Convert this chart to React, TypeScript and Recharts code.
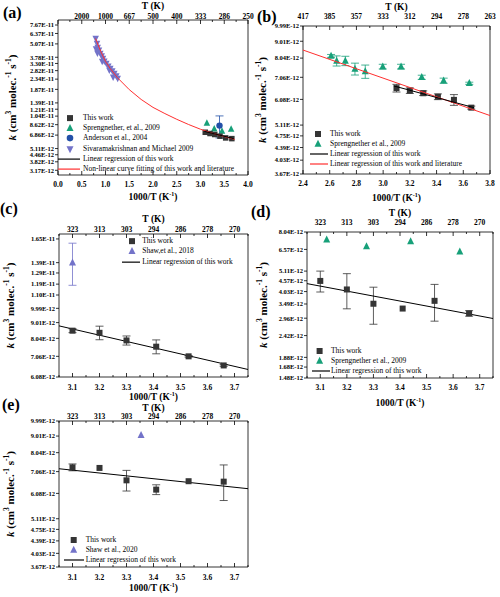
import React from 'react';
import { ScatterChart, Scatter, XAxis, YAxis, ErrorBar, Legend } from 'recharts';

const FONT = '"Liberation Serif", "Times New Roman", Times, serif';
const INK = '#353535';
const GREEN = '#17a079';
const BLUE = '#2350a8';
const PURPLE = '#7373c9';
const RED = '#ff2f2f';

// 1000/T of this work (K-1)
const workX = [3.1, 3.2, 3.3, 3.41, 3.53, 3.66];

// (a) all data, wide range
const aWorkK = [7.3e-12, 7.1e-12, 6.95e-12, 6.7e-12, 6.45e-12, 6.35e-12];
const aSprX = [3.134, 3.289, 3.453, 3.645];
const aSprK = [8.9e-12, 7.85e-12, 7.5e-12, 7.8e-12];
const aAndX = [3.4];
const aAndK = [8.45e-12];
const aAndErr = [2.0e-12];
const aSivX = [0.794, 0.8, 0.821, 0.83, 0.836, 0.863, 0.891, 0.92, 0.93, 0.947, 0.975, 1.017, 1.059, 1.08, 1.101, 1.143, 1.16, 1.185, 1.227, 1.257];
const aSivK = [5.73e-11, 4.55e-11, 5.13e-11, 4.15e-11, 4.7e-11, 4.43e-11, 4.12e-11, 3.89e-11, 3.45e-11, 3.7e-11, 3.48e-11, 3.31e-11, 3.12e-11, 2.85e-11, 2.97e-11, 2.8e-11, 2.45e-11, 2.66e-11, 2.51e-11, 2.38e-11];
const aFitX = [0.79, 0.9, 1.0, 1.1, 1.25, 1.5, 1.75, 2.0, 2.25, 2.5, 2.75, 3.0, 3.25, 3.5, 3.72];
const aFitK = [5.7e-11, 4.3e-11, 3.45e-11, 2.95e-11, 2.42e-11, 1.86e-11, 1.5e-11, 1.26e-11, 1.1e-11, 9.7e-12, 8.65e-12, 7.8e-12, 7.15e-12, 6.65e-12, 6.25e-12];
const aLinX = [3.08, 3.7];
const aLinK = [7.45e-12, 6.35e-12];

// (b)
const bWorkK = [6.56e-12, 6.45e-12, 6.34e-12, 6.19e-12, 6.06e-12, 5.75e-12];
const bWorkErr = [0.17e-12, 0.12e-12, 0.1e-12, 0.12e-12, 0.22e-12, 0.06e-12];
const bSprX = [2.61, 2.652, 2.717, 2.789, 2.866, 2.997, 3.134, 3.289, 3.453, 3.645];
const bSprK = [8.16e-12, 7.89e-12, 7.89e-12, 7.47e-12, 7.34e-12, 7.59e-12, 7.59e-12, 7.06e-12, 6.9e-12, 6.78e-12];
const bSprErr = [0.08e-12, 0.27e-12, 0.25e-12, 0.3e-12, 0.33e-12, 0.12e-12, 0.12e-12, 0.1e-12, 0.12e-12, 0.05e-12];
const bFitX = [2.4, 3.8];
const bFitK = [8.49e-12, 5.45e-12];
const bLinX = [3.08, 3.68];
const bLinK = [6.66e-12, 5.75e-12];

// (c)
const cWorkK = [8.5e-12, 8.37e-12, 7.92e-12, 7.57e-12, 7.06e-12, 6.61e-12];
const cWorkErr = [0.12e-12, 0.41e-12, 0.26e-12, 0.38e-12, 0.04e-12, 0.04e-12];
const cShawX = [3.1];
const cShawK = [1.39e-11];
const cShawErr = [0.21e-11];
const cLinX = [3.05, 3.75];
const cLinK = [8.8e-12, 6.42e-12];

// (d)
const dWorkK = [4.56e-12, 4.13e-12, 3.5e-12, 3.31e-12, 3.62e-12, 3.13e-12];
const dWorkErr = [0.55e-12, 0.83e-12, 0.74e-12, 0, 0.76e-12, 0.1e-12];
const dSprX = [3.124, 3.274, 3.44, 3.625];
const dSprK = [7.35e-12, 6.8e-12, 7.21e-12, 6.39e-12];
const dLinX = [3.05, 3.75];
const dLinK = [4.42e-12, 2.95e-12];

// (e)
const eWorkK = [7.27e-12, 7.24e-12, 6.65e-12, 6.24e-12, 6.61e-12, 6.59e-12];
const eWorkErr = [0.17e-12, 0, 0.47e-12, 0.21e-12, 0, 0.8e-12];
const eShawX = [3.354];
const eShawK = [9.06e-12];
const eLinX = [3.05, 3.75];
const eLinK = [7.2e-12, 6.28e-12];

// ticks
const aXMajor = [0, 0.5, 1, 1.5, 2, 2.5, 3, 3.5, 4];
const aXMinor = [0.25, 0.75, 1.25, 1.75, 2.25, 2.75, 3.25, 3.75];
const aTLabels = ['', '2000', '1000', '667', '500', '400', '333', '286', '250'];
const bXMajor = [2.4, 2.6, 2.8, 3.0, 3.2, 3.4, 3.6, 3.8];
const bXMinor = [2.5, 2.7, 2.9, 3.1, 3.3, 3.5, 3.7];
const bTLabels = ['417', '385', '357', '333', '312', '294', '278', '263'];
const cXMajor = [3.1, 3.2, 3.3, 3.4, 3.5, 3.6, 3.7];
const cXMinor = [3.05, 3.15, 3.25, 3.35, 3.45, 3.55, 3.65, 3.75];
const cTLabels = ['323', '313', '303', '294', '286', '278', '270'];

const aYTicks = [7.67e-11, 6.37e-11, 5.07e-11, 3.78e-11, 3.3e-11, 2.82e-11, 2.34e-11, 1.87e-11, 1.39e-11, 1.21e-11, 1.04e-11, 8.62e-12, 6.86e-12, 5.11e-12, 4.46e-12, 3.82e-12, 3.17e-12];
const bYTicks = [9.99e-12, 9.01e-12, 8.04e-12, 7.06e-12, 6.08e-12, 5.11e-12, 4.75e-12, 4.39e-12, 4.03e-12, 3.67e-12];
const cYTicks = [1.65e-11, 1.39e-11, 1.29e-11, 1.19e-11, 1.1e-11, 9.99e-12, 9.01e-12, 8.04e-12, 7.06e-12, 6.08e-12];
const dYTicks = [8.04e-12, 6.57e-12, 5.11e-12, 4.57e-12, 4.03e-12, 3.49e-12, 2.96e-12, 2.42e-12, 1.88e-12, 1.68e-12, 1.48e-12];
const eYTicks = bYTicks;

type Kind = 'sq' | 'up' | 'down' | 'dot' | 'line';
type LegItem = { label: string; kind: Kind; color: string };

const LEG_A: LegItem[] = [
  { label: 'This work', kind: 'sq', color: INK },
  { label: 'Sprengnether, et al., 2009', kind: 'up', color: GREEN },
  { label: 'Anderson et al., 2004', kind: 'dot', color: BLUE },
  { label: 'Sivaramakrishnan and Michael 2009', kind: 'down', color: PURPLE },
  { label: 'Linear regression of this work', kind: 'line', color: '#000' },
  { label: 'Non-linear curve fitting of this work and literature', kind: 'line', color: RED },
];
const LEG_B: LegItem[] = [
  { label: 'This work', kind: 'sq', color: INK },
  { label: 'Sprengnether et al., 2009', kind: 'up', color: GREEN },
  { label: 'Linear regression of this work', kind: 'line', color: '#000' },
  { label: 'Linear regression of this work and literature', kind: 'line', color: RED },
];
const LEG_C: LegItem[] = [
  { label: 'This work', kind: 'sq', color: INK },
  { label: 'Shaw,et al., 2018', kind: 'up', color: PURPLE },
  { label: 'Linear regression of this work', kind: 'line', color: '#000' },
];
const LEG_D: LegItem[] = [
  { label: 'This work', kind: 'sq', color: INK },
  { label: 'Sprengnether et al., 2009', kind: 'up', color: GREEN },
  { label: 'Linear regression of this work', kind: 'line', color: '#000' },
];
const LEG_E: LegItem[] = [
  { label: 'This work', kind: 'sq', color: INK },
  { label: 'Shaw et al., 2020', kind: 'up', color: PURPLE },
  { label: 'Linear regression of this work', kind: 'line', color: '#000' },
];

const pts = (xs: number[], ys: number[], es?: number[]) =>
  xs.map((x, i) => ({ x, y: ys[i], err: es ? es[i] : 0 }));

const fmtK = (v: number) => v.toExponential(2).toUpperCase();
const sortTicks = (a: number[], b: number[]) => [...a, ...b].sort((p, q) => p - q);

const square = (c: string, s: number) => (p: any) => (
  <rect x={p.cx - s / 2} y={p.cy - s / 2} width={s} height={s} fill={c} />
);
const triUp = (c: string, s: number) => (p: any) => (
  <path d={`M${p.cx},${p.cy - s * 0.6}L${p.cx + s / 2},${p.cy + s * 0.4}L${p.cx - s / 2},${p.cy + s * 0.4}Z`} fill={c} />
);
const triDown = (c: string, s: number) => (p: any) => (
  <path d={`M${p.cx},${p.cy + s * 0.6}L${p.cx + s / 2},${p.cy - s * 0.4}L${p.cx - s / 2},${p.cy - s * 0.4}Z`} fill={c} />
);
const dot = (c: string, r: number) => (p: any) => <circle cx={p.cx} cy={p.cy} r={r} fill={c} />;
const none = () => <g />;

function XTick(props: any) {
  const { x, y, payload, majors, labels, side, gap, size } = props;
  const idx = majors.indexOf(payload.value);
  const axisY = side === 'bottom' ? y - gap : y + gap;
  const len = idx >= 0 ? 4 : 2;
  const y2 = side === 'bottom' ? axisY - len : axisY + len;
  return (
    <g>
      <line x1={x} x2={x} y1={axisY} y2={y2} stroke="#000" strokeWidth={0.8} />
      {idx >= 0 && labels[idx] !== '' && (
        <text x={x} y={y} textAnchor="middle" fontFamily={FONT} fontWeight="bold" fontSize={size}
          fill="#000" style={{ fill: '#000' }}>
          {labels[idx]}
        </text>
      )}
    </g>
  );
}

function YTitle(props: any) {
  const { viewBox, dx } = props;
  const cx = viewBox.x + dx;
  const cy = viewBox.y + viewBox.height / 2;
  return (
    <text x={cx} y={cy} transform={`rotate(-90 ${cx} ${cy})`} textAnchor="middle" dominantBaseline="central"
      fontFamily={FONT} fontWeight="bold" fontSize={11} fill="#000">
      <tspan fontStyle="italic">k</tspan>
      <tspan> (cm</tspan>
      <tspan dy={-4} fontSize={7.5}>3</tspan>
      <tspan dy={4}> molec.</tspan>
      <tspan dy={-4} fontSize={7.5}>-1</tspan>
      <tspan dy={4}> s</tspan>
      <tspan dy={-4} fontSize={7.5}>-1</tspan>
      <tspan dy={4}>)</tspan>
    </text>
  );
}

function XTitle(props: any) {
  const { viewBox, dist } = props;
  const cx = viewBox.x + viewBox.width / 2;
  return (
    <text x={cx} y={viewBox.y + dist} textAnchor="middle" dominantBaseline="central"
      fontFamily={FONT} fontWeight="bold" fontSize={9.5} fill="#000">
      1000/T (K<tspan dy={-3} fontSize={6}>-1</tspan><tspan dy={3}>)</tspan>
    </text>
  );
}

function TTitle(props: any) {
  const { viewBox, dist } = props;
  const cx = viewBox.x + viewBox.width / 2;
  return (
    <text x={cx} y={viewBox.y + viewBox.height - dist} textAnchor="middle" dominantBaseline="central"
      fontFamily={FONT} fontWeight="bold" fontSize={9.5} fill="#000">
      T (K)
    </text>
  );
}

function Mark({ it, cx, cy, line }: { it: LegItem; cx: number; cy: number; line: number }) {
  if (it.kind === 'line') return <line x1={0} x2={line} y1={cy} y2={cy} stroke={it.color} strokeWidth={1.2} />;
  const p = { cx, cy };
  if (it.kind === 'sq') return square(it.color, 6)(p);
  if (it.kind === 'up') return triUp(it.color, 7)(p);
  if (it.kind === 'down') return triDown(it.color, 7)(p);
  return dot(it.color, 3.3)(p);
}

function LegendBox({ items, box, mark, line, row }: { items: LegItem[]; box: number; mark: number; line: number; row: number }) {
  return (
    <div style={{ fontFamily: FONT, fontSize: 7.5, color: '#000', lineHeight: `${row}px` }}>
      {items.map((it) => (
        <div key={it.label} style={{ display: 'flex', alignItems: 'center', height: row, whiteSpace: 'nowrap' }}>
          <svg width={box} height={row} style={{ flex: 'none', overflow: 'visible' }}>
            <Mark it={it} cx={mark} cy={row / 2} line={line} />
          </svg>
          <span>{it.label}</span>
        </div>
      ))}
    </div>
  );
}

interface PanelProps {
  left: number; top: number; width: number; height: number; right: number;
  yWidth: number; topH: number; bottomH: number;
  xDomain: [number, number]; xMajor: number[]; xMinor: number[]; tLabels: string[];
  yDomain: [number, number]; yTicks: number[];
  topGap: number; bottomGap: number; tDist: number; xDist: number; yDx: number;
  legend: LegItem[]; legLeft: number; legTop: number; legBox: number; legMark: number; legLine: number; legRow: number;
  children: React.ReactNode;
}

function Panel(p: PanelProps) {
  const ticks = sortTicks(p.xMajor, p.xMinor);
  const bottomLabels = p.xMajor.map((v) => v.toFixed(1));
  return (
    <div style={{ position: 'absolute', left: p.left, top: p.top }}>
      <ScatterChart width={p.width} height={p.height} margin={{ top: 0, right: p.right, bottom: 0, left: 0 }}>
        <XAxis dataKey="x" type="number" domain={p.xDomain} ticks={ticks} interval={0} allowDataOverflow
          height={p.bottomH} tickSize={0} tickMargin={p.bottomGap} tickLine={false}
          axisLine={{ stroke: '#000', strokeWidth: 0.8 }}
          tick={(t: any) => <XTick {...t} majors={p.xMajor} labels={bottomLabels} side="bottom" gap={p.bottomGap} size={7.5} />}
          label={<XTitle dist={p.xDist} />} />
        <XAxis xAxisId="top" orientation="top" dataKey="x" type="number" domain={p.xDomain} ticks={ticks} interval={0} allowDataOverflow
          height={p.topH} tickSize={0} tickMargin={p.topGap} tickLine={false}
          axisLine={{ stroke: '#000', strokeWidth: 0.8 }}
          tick={(t: any) => <XTick {...t} majors={p.xMajor} labels={p.tLabels} side="top" gap={p.topGap} size={7.5} />}
          label={<TTitle dist={p.tDist} />} />
        <YAxis dataKey="y" type="number" scale="log" domain={p.yDomain} ticks={p.yTicks} interval={0} allowDataOverflow
          width={p.yWidth} tickSize={3} tickMargin={1} tickFormatter={fmtK}
          tick={{ fontSize: 6.5, fontWeight: 'bold', fontFamily: FONT, fill: '#000' }}
          tickLine={{ stroke: '#000', strokeWidth: 0.8 }} axisLine={{ stroke: '#000', strokeWidth: 0.8 }}
          label={<YTitle dx={p.yDx} />} />
        <YAxis yAxisId="r" orientation="right" type="number" domain={[0, 1]} width={1} tick={false} tickLine={false}
          axisLine={{ stroke: '#000', strokeWidth: 0.8 }} />
        <Legend layout="vertical" align="center" verticalAlign="middle"
          wrapperStyle={{ position: 'absolute', left: p.legLeft, top: p.legTop, width: 'auto', height: 'auto' }}
          content={() => <LegendBox items={p.legend} box={p.legBox} mark={p.legMark} line={p.legLine} row={p.legRow} />} />
        {p.children}
      </ScatterChart>
    </div>
  );
}

const letter = (text: string, left: number, top: number) => (
  <div style={{ position: 'absolute', left, top, fontFamily: FONT, fontWeight: 'bold', fontSize: 16, lineHeight: '16px', color: '#000' }}>
    {text}
  </div>
);

const ebar = (c: string) => <ErrorBar dataKey="err" direction="y" width={4} stroke={c} strokeWidth={0.8} />;

export default function App() {
  return (
    <div style={{ position: 'absolute', left: 0, top: 0, width: 500, height: 597, background: '#fff' }}>
      <Panel left={0} top={0} width={262} height={205} right={13} yWidth={58} topH={20} bottomH={30}
        xDomain={[0, 4]} xMajor={aXMajor} xMinor={aXMinor} tLabels={aTLabels}
        yDomain={[2.86e-12, 8.56e-11]} yTicks={aYTicks}
        topGap={1.5} bottomGap={11.6} tDist={14} xDist={22} yDx={12}
        legend={LEG_A} legLeft={58} legTop={113} legBox={25} legMark={12} legLine={22} legRow={10.2}>
        <Scatter data={pts(aSivX, aSivK)} shape={triDown(PURPLE, 6.5)} isAnimationActive={false} />
        <Scatter data={pts(aSprX, aSprK)} shape={triUp(GREEN, 6.5)} isAnimationActive={false} />
        <Scatter data={pts(aAndX, aAndK, aAndErr)} shape={dot(BLUE, 3.2)} isAnimationActive={false}>
          {ebar(BLUE)}
        </Scatter>
        <Scatter data={pts(workX, aWorkK)} shape={square(INK, 5.5)} isAnimationActive={false} />
        <Scatter data={pts(aFitX, aFitK)} line={{ stroke: RED, strokeWidth: 1 }} shape={none} isAnimationActive={false} />
        <Scatter data={pts(aLinX, aLinK)} line={{ stroke: '#000', strokeWidth: 1 }} shape={none} isAnimationActive={false} />
      </Panel>

      <Panel left={250} top={0} width={250} height={205} right={9} yWidth={53} topH={26} bottomH={31}
        xDomain={[2.4, 3.8]} xMajor={bXMajor} xMinor={bXMinor} tLabels={bTLabels}
        yDomain={[3.67e-12, 9.99e-12]} yTicks={bYTicks}
        topGap={7.5} bottomGap={11.6} tDist={19} xDist={24} yDx={12}
        legend={LEG_B} legLeft={60} legTop={129} legBox={20} legMark={8} legLine={18} legRow={10}>
        <Scatter data={pts(bSprX, bSprK, bSprErr)} shape={triUp(GREEN, 7)} isAnimationActive={false}>
          {ebar(GREEN)}
        </Scatter>
        <Scatter data={pts(workX, bWorkK, bWorkErr)} shape={square(INK, 6)} isAnimationActive={false}>
          {ebar(INK)}
        </Scatter>
        <Scatter data={pts(bFitX, bFitK)} line={{ stroke: RED, strokeWidth: 1 }} shape={none} isAnimationActive={false} />
        <Scatter data={pts(bLinX, bLinK)} line={{ stroke: '#000', strokeWidth: 1 }} shape={none} isAnimationActive={false} />
      </Panel>

      <Panel left={0} top={205} width={250} height={200} right={1} yWidth={59} topH={29} bottomH={28}
        xDomain={[3.05, 3.75]} xMajor={cXMajor} xMinor={cXMinor} tLabels={cTLabels}
        yDomain={[6.08e-12, 1.71e-11]} yTicks={cYTicks}
        topGap={2.5} bottomGap={13} tDist={15} xDist={20} yDx={10}
        legend={LEG_C} legLeft={121.7} legTop={31} legBox={20.6} legMark={10} legLine={18} legRow={10.3}>
        <Scatter data={pts(cLinX, cLinK)} line={{ stroke: '#000', strokeWidth: 1 }} shape={none} isAnimationActive={false} />
        <Scatter data={pts(cShawX, cShawK, cShawErr)} shape={triUp(PURPLE, 7)} isAnimationActive={false}>
          {ebar(PURPLE)}
        </Scatter>
        <Scatter data={pts(workX, cWorkK, cWorkErr)} shape={square(INK, 6)} isAnimationActive={false}>
          {ebar(INK)}
        </Scatter>
      </Panel>

      <Panel left={250} top={190} width={250} height={220} right={6} yWidth={57} topH={42} bottomH={32}
        xDomain={[3.05, 3.75]} xMajor={cXMajor} xMinor={cXMinor} tLabels={cTLabels}
        yDomain={[1.48e-12, 8.04e-12]} yTicks={dYTicks}
        topGap={7.5} bottomGap={11.6} tDist={19} xDist={25} yDx={13}
        legend={LEG_D} legLeft={61.7} legTop={155.7} legBox={19.3} legMark={7.6} legLine={18} legRow={10}>
        <Scatter data={pts(dLinX, dLinK)} line={{ stroke: '#000', strokeWidth: 1 }} shape={none} isAnimationActive={false} />
        <Scatter data={pts(dSprX, dSprK)} shape={triUp(GREEN, 7)} isAnimationActive={false} />
        <Scatter data={pts(workX, dWorkK, dWorkErr)} shape={square(INK, 6)} isAnimationActive={false}>
          {ebar(INK)}
        </Scatter>
      </Panel>

      <Panel left={0} top={400} width={250} height={197} right={1} yWidth={59} topH={21} bottomH={30}
        xDomain={[3.05, 3.75]} xMajor={cXMajor} xMinor={cXMinor} tLabels={cTLabels}
        yDomain={[3.67e-12, 9.99e-12]} yTicks={eYTicks}
        topGap={2} bottomGap={12.6} tDist={13.5} xDist={21} yDx={10}
        legend={LEG_E} legLeft={64.3} legTop={135.3} legBox={21.4} legMark={9.7} legLine={20} legRow={10}>
        <Scatter data={pts(eLinX, eLinK)} line={{ stroke: '#000', strokeWidth: 1 }} shape={none} isAnimationActive={false} />
        <Scatter data={pts(eShawX, eShawK)} shape={triUp(PURPLE, 7)} isAnimationActive={false} />
        <Scatter data={pts(workX, eWorkK, eWorkErr)} shape={square(INK, 6)} isAnimationActive={false}>
          {ebar(INK)}
        </Scatter>
      </Panel>

      {letter('(a)', 3, 5)}
      {letter('(b)', 257, 9)}
      {letter('(c)', 0, 201)}
      {letter('(d)', 251, 204)}
      {letter('(e)', 2, 397)}
    </div>
  );
}
